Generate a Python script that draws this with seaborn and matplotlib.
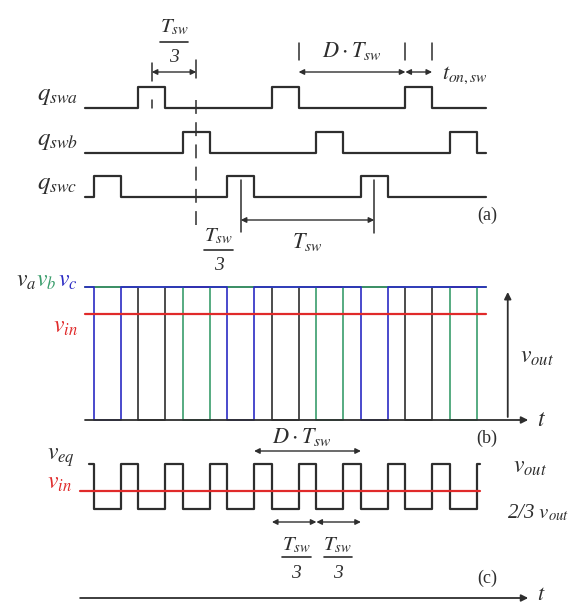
import numpy as np
import matplotlib
matplotlib.use("Agg")
import matplotlib.pyplot as plt
import seaborn as sns


sns.set_theme(style="white")
plt.rcParams["mathtext.fontset"] = "stix"
plt.rcParams["font.family"] = ["Liberation Serif", "DejaVu Serif"]
plt.rcParams["lines.scale_dashes"] = False

# time axis in units of T_sw / 3
t_start = 0.0
t_end = 9.0
t_on = 0.6
qa_on = [1.2, 4.2, 7.2]
qb_on = [2.2, 5.2, 8.2]
qc_on = [0.2, 3.2, 6.2]
v_in_ratio = 0.8          # v_in / v_out
veq_span = [0.1, 8.88]
vin_span_c = [-0.11, 8.88]
axis_end = 9.96

dark = "#2e2e2e"
green = "#3a9d6c"
blue = "#2b2bc4"
red = "#e02a2a"

# vertical layout (pixels from top)
rows_a = {"a": 108, "b": 153, "c": 197}
amp_a = 21
base_b, amp_b = 420, 133
base_c, amp_c = 509, 135


def pulse_train(starts, width, t0, t1):
    xs, ys = [t0], [0]
    for s in starts:
        xs += [s, s, s + width, s + width]
        ys += [0, 1, 1, 0]
    xs.append(t1)
    ys.append(0)
    return np.array(xs), np.array(ys)


def draw(ax, x, y, color, lw):
    sns.lineplot(x=x, y=y, estimator=None, sort=False, color=color, lw=lw,
                 ax=ax, legend=False)


def arrow(ax, x0, x1, y, style="<|-|>"):
    ax.annotate("", xy=(x1, y), xytext=(x0, y),
                arrowprops=dict(arrowstyle=style, color=dark, lw=1.0,
                                shrinkA=0, shrinkB=0, mutation_scale=8))


def frac(ax, x, y_top, y_bar, y_bot, size=15):
    ax.text(x, y_top, r"$T_{sw}$", ha="center", va="center", fontsize=size, color=dark)
    ax.plot([x - 0.32, x + 0.32], [y_bar, y_bar], color=dark, lw=1.2)
    ax.text(x, y_bot, "3", ha="center", va="center", fontsize=size - 1,
            fontstyle="italic", color=dark)


fig = plt.figure(figsize=(5.71, 6.06), dpi=100)
ax = fig.add_axes([0, 0, 1, 1])
ax.set_xlim(-85 / 44.5, (571 - 85) / 44.5)
ax.set_ylim(606, 0)
ax.axis("off")

# ---------- (a) switching signals ----------
q_all = {"a": qa_on, "b": qb_on, "c": qc_on}
for key, starts in q_all.items():
    x, lev = pulse_train(starts, t_on, t_start, t_end)
    draw(ax, x, rows_a[key] - amp_a * lev, dark, 1.6)
    ax.text(-0.16, rows_a[key] - 12, rf"$q_{{sw{key}}}$", ha="right", va="center",
            fontsize=18, color=dark)

mid_a = qa_on[0] + t_on / 2
mid_b = qb_on[0] + t_on / 2
ax.plot([mid_a, mid_a], [63, 81], color=dark, lw=1.1)
ax.plot([mid_a, mid_a], [100, 108], color=dark, lw=1.1)
ax.plot([mid_b, mid_b], [60, 78], color=dark, lw=1.1)
ax.plot([mid_b, mid_b], [100, 230], color=dark, lw=1.1, ls=(0, (10, 6)))
arrow(ax, mid_a, mid_b, 72)
frac(ax, (mid_a + mid_b) / 2, 27, 42, 58)

d_start = qa_on[1] + t_on
d_end = qa_on[2]
for xv in [d_start, d_end, d_end + t_on]:
    ax.plot([xv, xv], [43, 60], color=dark, lw=1.1)
arrow(ax, d_start, d_end, 72)
arrow(ax, d_end, d_end + t_on, 72)
ax.text((d_start + d_end) / 2, 51, r"$D \cdot T_{sw}$", ha="center", va="center",
        fontsize=16, color=dark)
ax.text(8.02, 75, r"$t_{on,sw}$", ha="left", va="center", fontsize=16, color=dark)

mid_c1 = qc_on[1] + t_on / 2
mid_c2 = qc_on[2] + t_on / 2
ax.plot([mid_c1, mid_c1], [180, 232], color=dark, lw=1.1)
ax.plot([mid_c2, mid_c2], [180, 233], color=dark, lw=1.1)
arrow(ax, mid_c1, mid_c2, 220)
ax.text((mid_c1 + mid_c2) / 2, 242, r"$T_{sw}$", ha="center", va="center",
        fontsize=16, color=dark)
frac(ax, 3.0, 236, 250, 265)
ax.text(9.03, 215, "(a)", ha="center", va="center", fontsize=13, color=dark)

# ---------- (b) phase voltages ----------
ax.annotate("", xy=(axis_end, base_b), xytext=(t_start, base_b),
            arrowprops=dict(arrowstyle="-|>", color=dark, lw=1.3,
                            shrinkA=0, shrinkB=0, mutation_scale=10))
for starts, col in [(qa_on, dark), (qb_on, green), (qc_on, blue)]:
    x, lev = pulse_train(starts, t_on, t_start, t_end)
    draw(ax, x, base_b - amp_b * (1 - lev), col, 1.2)
ax.plot([t_start, t_end], [base_b - amp_b * v_in_ratio] * 2, color=red, lw=1.6)
ax.annotate("", xy=(9.5, 292), xytext=(9.5, 417),
            arrowprops=dict(arrowstyle="-|>", color=dark, lw=1.3,
                            shrinkA=0, shrinkB=0, mutation_scale=10))
ax.text(9.78, 357, r"$v_{out}$", ha="left", va="center", fontsize=17, color=dark)
ax.text(10.16, 420, r"$t$", ha="left", va="center", fontsize=17, color=dark)
ax.text(-1.1, 282, r"$v_a$", ha="right", va="center", fontsize=17, color=dark)
ax.text(-0.64, 282, r"$v_b$", ha="right", va="center", fontsize=17, color=green)
ax.text(-0.16, 282, r"$v_c$", ha="right", va="center", fontsize=17, color=blue)
ax.text(-0.16, 328, r"$v_{in}$", ha="right", va="center", fontsize=17, color=red)
ax.text(9.03, 438, "(b)", ha="center", va="center", fontsize=13, color=dark)

# ---------- (c) equivalent voltage ----------
all_on = sorted(qa_on + qb_on + qc_on)
x, n_on = pulse_train(all_on, t_on, veq_span[0], veq_span[1])
veq = 1 - n_on / 3
draw(ax, x, base_c - amp_c * (veq - 2 / 3), dark, 1.6)
ax.plot(vin_span_c, [base_c - amp_c * (v_in_ratio - 2 / 3)] * 2, color=red, lw=1.6)

dc_start = qc_on[1] + t_on
dc_end = qc_on[2]
arrow(ax, dc_start, dc_end, 451)
ax.text(4.88, 437, r"$D \cdot T_{sw}$", ha="center", va="center", fontsize=16, color=dark)
arrow(ax, qa_on[1], qb_on[1], 522)
arrow(ax, qb_on[1], qc_on[2], 522)
frac(ax, 4.75, 545, 557, 573)
frac(ax, 5.68, 545, 557, 573)

ax.text(-0.22, 458, r"$v_{eq}$", ha="right", va="center", fontsize=17, color=dark)
ax.text(-0.29, 483, r"$v_{in}$", ha="right", va="center", fontsize=17, color=red)
ax.text(9.62, 467, r"$v_{out}$", ha="left", va="center", fontsize=17, color=dark)
ax.text(9.48, 513, r"2/3 $v_{out}$", ha="left", va="center", fontsize=15,
        fontstyle="italic", color=dark)
ax.text(9.03, 578, "(c)", ha="center", va="center", fontsize=13, color=dark)

ax.annotate("", xy=(axis_end, 598), xytext=(-0.11, 598),
            arrowprops=dict(arrowstyle="-|>", color=dark, lw=1.3,
                            shrinkA=0, shrinkB=0, mutation_scale=10))
ax.text(10.16, 596, r"$t$", ha="left", va="center", fontsize=16, color=dark)

fig.savefig("out.png", dpi=100)
